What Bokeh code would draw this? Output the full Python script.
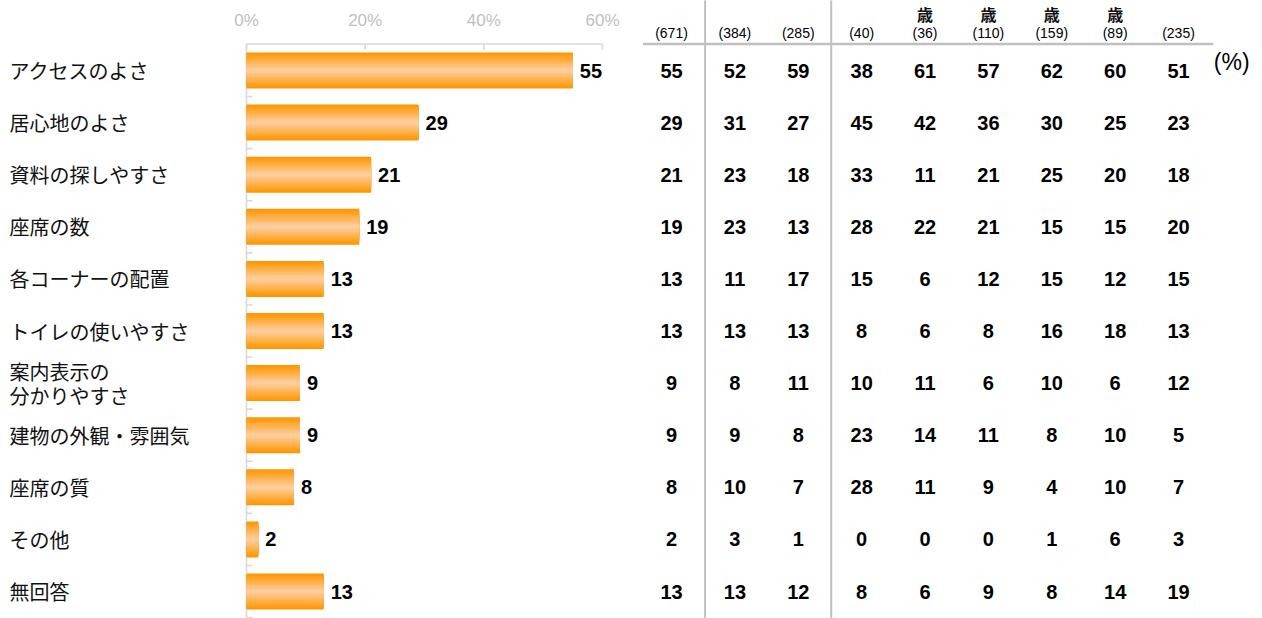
from bokeh.plotting import figure
from bokeh.models import Range1d, ColumnDataSource
from bokeh.core.properties import value
from bokeh.embed import file_html
from bokeh.resources import INLINE

# ---------------- data ----------------
categories = ["アクセスのよさ", "居心地のよさ", "資料の探しやすさ", "座席の数",
              "各コーナーの配置", "トイレの使いやすさ", "案内表示の\n分かりやすさ",
              "建物の外観・雰囲気", "座席の質", "その他", "無回答"]
overall = [55, 29, 21, 19, 13, 13, 9, 9, 8, 2, 13]

col_counts = ["(671)", "(384)", "(285)", "(40)", "(36)", "(110)", "(159)", "(89)", "(235)"]
header_tail_cols = [4, 5, 6, 7]
header_tail = ["歳", "歳", "歳", "歳"]

col_total = [55, 29, 21, 19, 13, 13, 9, 9, 8, 2, 13]
col_male = [52, 31, 23, 23, 11, 13, 8, 9, 10, 3, 13]
col_female = [59, 27, 18, 13, 17, 13, 11, 8, 7, 1, 12]
col_age1 = [38, 45, 33, 28, 15, 8, 10, 23, 28, 0, 8]
col_age2 = [61, 42, 11, 22, 6, 6, 11, 14, 11, 0, 6]
col_age3 = [57, 36, 21, 21, 12, 8, 6, 11, 9, 0, 9]
col_age4 = [62, 30, 25, 15, 15, 16, 10, 8, 4, 1, 8]
col_age5 = [60, 25, 20, 15, 12, 18, 6, 10, 10, 6, 14]
col_age6 = [51, 23, 18, 20, 15, 13, 12, 5, 7, 3, 19]

tick_values = [0, 20, 40, 60]
tick_labels = ["0%", "20%", "40%", "60%"]
unit_label = "(%)"

# ---------------- layout ----------------
W, H = 1262, 618
OX, OY = 0, 0
PX0, PXU = 246.0, 356.0 / 60.0      # page x of 0 %, px per %
PY0, PYU = 70.0, 52.1               # page y of first row, px per row
TX0, TXU = 671.0, 63.375            # page x of first table column, px per column

p = figure(width=W, height=H, output_backend="svg", toolbar_location=None,
           x_range=Range1d((OX - PX0) / PXU, (OX + W - PX0) / PXU),
           y_range=Range1d((OY + H - PY0) / PYU, (OY - PY0) / PYU),
           x_axis_location=None, y_axis_location=None,
           min_border=0, outline_line_color=None, background_fill_color="white",
           border_fill_color="white")
p.grid.visible = False
p.extra_x_ranges = {"tbl": Range1d((OX - TX0) / TXU, (OX + W - TX0) / TXU)}

rows = list(range(len(categories)))
ytop_axis = (43.5 - PY0) / PYU
ybottom = (OY + H - PY0) / PYU + 0.2
ytop_page = (OY - PY0) / PYU - 0.2

# ---- axes (drawn) ----
axis_col = "#D9D9D9"
p.segment(x0=[0], y0=[ytop_axis], x1=[0], y1=[ybottom], line_color=axis_col, line_width=1.6)
p.segment(x0=[0], y0=[ytop_axis], x1=[60], y1=[ytop_axis], line_color=axis_col, line_width=1.6)
p.segment(x0=tick_values, y0=[ytop_axis] * 4, x1=tick_values, y1=[ytop_axis + 6 / PYU] * 4,
          line_color=axis_col, line_width=1.6)
bounds = [r + 0.5 for r in range(len(categories))]
p.segment(x0=[0] * len(bounds), y0=bounds, x1=[6 / PXU] * len(bounds), y1=bounds,
          line_color=axis_col, line_width=1.6)
p.text(x=tick_values, y=[(19.5 - PY0) / PYU] * 4, text=tick_labels,
       text_font=value("Liberation Sans"), text_font_size="17px", text_color="#BFBFBF",
       text_align="center", text_baseline="middle")

# ---- bars with vertical gradient (nested bars) ----
src = ColumnDataSource(dict(y=rows, v=overall, cat=categories))
BAR_H = 36.0 / PYU
N = 14
c_edge = (255, 150, 0)
c_mid = (255, 206, 158)
for k in range(N):
    t = k / (N - 1)
    col = tuple(int(round(c_edge[i] + (c_mid[i] - c_edge[i]) * t)) for i in range(3))
    hex_col = "#%02x%02x%02x" % col
    p.hbar(y="y", left=0, right="v", height=BAR_H * (1 - k / N), source=src,
           fill_color=hex_col, line_color=None)

# value labels
p.text(x="v", y="y", text="v", source=src, x_offset=7,
       text_font=value("Liberation Sans"), text_font_style="bold", text_font_size="20px",
       text_color="black", text_align="left", text_baseline="middle")

# category labels
p.text(x=0, y="y", text="cat", source=src, x_offset=9 - PX0,
       text_font=value("Noto Sans CJK JP"), text_font_size="20px", text_color="#111111",
       text_align="left", text_baseline="middle", text_line_height=0.83)

# ---- table ----
table_cols = [col_total, col_male, col_female, col_age1, col_age2, col_age3,
              col_age4, col_age5, col_age6]
tx, ty, tv = [], [], []
for ci, colvals in enumerate(table_cols):
    for ri, v in enumerate(colvals):
        tx.append(ci)
        ty.append(ri)
        tv.append(str(v))
p.text(x=tx, y=ty, text=tv, x_range_name="tbl",
       text_font=value("Liberation Sans"), text_font_style="bold", text_font_size="20px",
       text_color="black", text_align="center", text_baseline="middle")

cols_idx = list(range(len(col_counts)))
p.text(x=cols_idx, y=[(32 - PY0) / PYU] * len(cols_idx), text=col_counts, x_range_name="tbl",
       text_font=value("Liberation Sans"), text_font_size="14px", text_color="#000000",
       text_align="center", text_baseline="middle")
p.text(x=header_tail_cols, y=[(13.5 - PY0) / PYU] * len(header_tail_cols), text=header_tail,
       x_range_name="tbl",
       text_font=value("Noto Sans CJK JP"), text_font_size="16px", text_color="#111111",
       text_font_style="bold", text_align="center", text_baseline="middle")

# table lines
line_col = "#C0C0C0"
p.segment(x0=[-0.45], y0=[ytop_axis], x1=[8.55], y1=[ytop_axis], x_range_name="tbl",
          line_color=line_col, line_width=2.5)
p.segment(x0=[0.53, 2.52], y0=[ytop_page] * 2, x1=[0.53, 2.52], y1=[ybottom] * 2,
          x_range_name="tbl", line_color=line_col, line_width=2)

p.text(x=[8.84], y=[(61 - PY0) / PYU], text=[unit_label], x_range_name="tbl",
       text_font=value("Liberation Sans"), text_font_size="23px", text_color="black",
       text_align="center", text_baseline="middle")

open("out.html", "w").write(file_html(p, INLINE))
